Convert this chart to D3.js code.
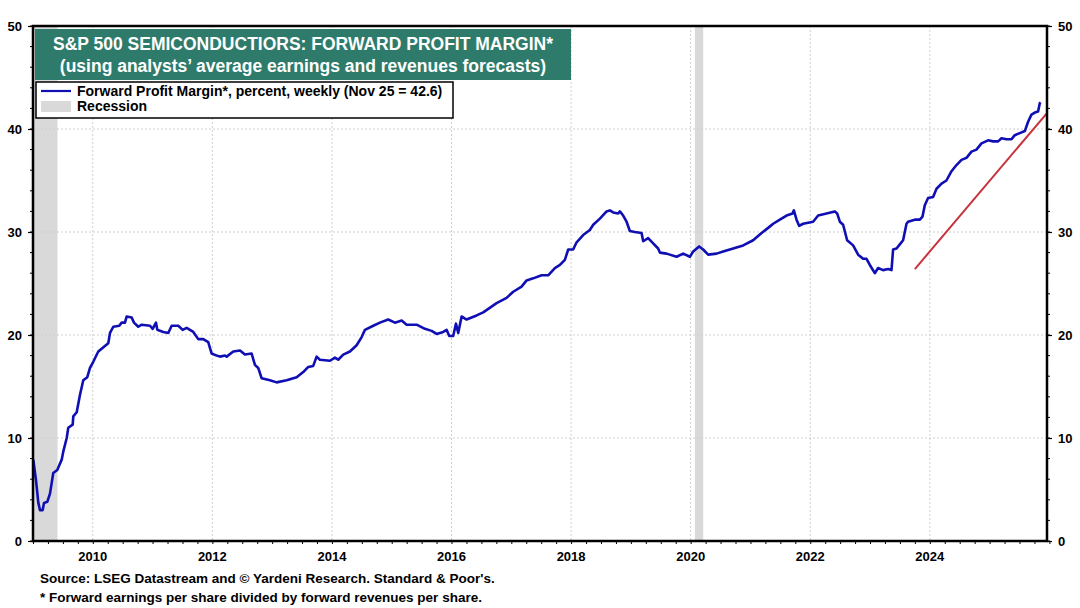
<!DOCTYPE html>
<html>
<head>
<meta charset="utf-8">
<script src="https://cdn.jsdelivr.net/npm/d3@7"></script>
<style>
  body { margin: 0; background: #ffffff; }
  svg text { font-family: "Liberation Sans", Arial, sans-serif; font-weight: bold; }
</style>
</head>
<body>
<script>
// weekly forward profit margin (decimal years)
const years = [
  2009.005, 2009.05, 2009.089, 2009.117, 2009.162, 2009.184, 2009.239, 2009.284, 2009.339, 2009.406,
  2009.48, 2009.507, 2009.564, 2009.59, 2009.664, 2009.674, 2009.731, 2009.786, 2009.841, 2009.908,
  2009.953, 2010.008, 2010.092, 2010.259, 2010.288, 2010.343, 2010.443, 2010.483, 2010.538, 2010.567,
  2010.65, 2010.689, 2010.761, 2010.818, 2010.957, 2011.002, 2011.057, 2011.079, 2011.179, 2011.263,
  2011.319, 2011.43, 2011.503, 2011.57, 2011.681, 2011.764, 2011.848, 2011.931, 2011.988, 2012.072,
  2012.127, 2012.211, 2012.239, 2012.35, 2012.462, 2012.545, 2012.657, 2012.712, 2012.767, 2012.824,
  2012.963, 2013.075, 2013.242, 2013.41, 2013.52, 2013.604, 2013.687, 2013.744, 2013.799, 2013.967,
  2014.05, 2014.105, 2014.189, 2014.301, 2014.413, 2014.497, 2014.552, 2014.691, 2014.803, 2014.941,
  2015.054, 2015.166, 2015.249, 2015.417, 2015.555, 2015.667, 2015.751, 2015.861, 2015.918, 2015.962,
  2016.028, 2016.074, 2016.112, 2016.169, 2016.252, 2016.42, 2016.53, 2016.754, 2016.921, 2017.032,
  2017.172, 2017.256, 2017.366, 2017.507, 2017.617, 2017.729, 2017.813, 2017.896, 2017.952, 2018.035,
  2018.092, 2018.202, 2018.314, 2018.37, 2018.482, 2018.594, 2018.649, 2018.704, 2018.788, 2018.816,
  2018.871, 2018.928, 2018.983, 2019.067, 2019.179, 2019.206, 2019.289, 2019.373, 2019.456, 2019.485,
  2019.597, 2019.764, 2019.875, 2019.987, 2020.042, 2020.142, 2020.209, 2020.293, 2020.433, 2020.543,
  2020.711, 2020.878, 2021.045, 2021.186, 2021.296, 2021.38, 2021.492, 2021.604, 2021.704, 2021.726,
  2021.771, 2021.814, 2021.881, 2022.048, 2022.132, 2022.272, 2022.411, 2022.45, 2022.495, 2022.55,
  2022.617, 2022.717, 2022.801, 2022.884, 2022.941, 2022.997, 2023.08, 2023.135, 2023.219, 2023.303,
  2023.359, 2023.386, 2023.443, 2023.498, 2023.553, 2023.61, 2023.636, 2023.749, 2023.833, 2023.878,
  2023.916, 2023.971, 2024.055, 2024.112, 2024.196, 2024.278, 2024.363, 2024.446, 2024.53, 2024.613,
  2024.697, 2024.78, 2024.864, 2024.975, 2025.058, 2025.142, 2025.199, 2025.282, 2025.366, 2025.421,
  2025.505, 2025.589, 2025.644, 2025.7, 2025.756, 2025.811, 2025.839, 2025.85
];
const margins = [
  7.9, 5.9, 3.7, 3.0, 3.0, 3.7, 3.8, 4.6, 6.6, 6.9,
  7.9, 8.7, 10.0, 11.0, 11.3, 12.1, 12.5, 14.2, 15.6, 15.9,
  16.8, 17.4, 18.4, 19.2, 20.2, 20.8, 20.9, 21.2, 21.2, 21.8,
  21.7, 21.2, 20.8, 21.0, 20.9, 20.6, 21.2, 20.5, 20.3, 20.2,
  20.9, 20.9, 20.5, 20.7, 20.3, 19.6, 19.6, 19.3, 18.2, 18.0,
  17.9, 18.0, 17.9, 18.4, 18.5, 18.1, 18.2, 17.1, 16.8, 15.8,
  15.6, 15.4, 15.6, 15.9, 16.4, 16.9, 17.0, 17.9, 17.6, 17.5,
  17.8, 17.6, 18.1, 18.4, 19.0, 19.8, 20.5, 20.9, 21.2, 21.5,
  21.2, 21.4, 21.0, 21.0, 20.6, 20.4, 20.1, 20.3, 20.5, 19.9,
  19.9, 21.1, 20.2, 21.8, 21.5, 21.9, 22.2, 23.1, 23.6, 24.2,
  24.7, 25.3, 25.5, 25.8, 25.8, 26.5, 26.8, 27.3, 28.3, 28.3,
  29.0, 29.7, 30.2, 30.7, 31.3, 32.0, 32.1, 31.9, 31.8, 32.0,
  31.6, 31.0, 30.1, 30.0, 29.9, 29.1, 29.4, 28.9, 28.4, 28.0,
  27.9, 27.6, 27.9, 27.6, 28.1, 28.6, 28.3, 27.8, 27.9, 28.1,
  28.4, 28.7, 29.2, 29.9, 30.4, 30.8, 31.2, 31.6, 31.8, 32.1,
  31.2, 30.6, 30.8, 31.0, 31.6, 31.8, 32.0, 31.8, 31.0, 30.7,
  29.2, 28.7, 27.8, 27.4, 27.4, 26.8, 26.0, 26.5, 26.3, 26.4,
  26.3, 28.3, 28.4, 28.8, 29.2, 30.8, 31.0, 31.2, 31.2, 31.5,
  32.6, 33.3, 33.4, 34.2, 34.7, 35.0, 35.9, 36.5, 37.0, 37.2,
  37.8, 38.0, 38.6, 38.9, 38.8, 38.8, 39.1, 39.0, 39.0, 39.4,
  39.6, 39.8, 40.7, 41.4, 41.6, 41.7, 42.5, 42.6
];

const trendYears = [2023.75, 2025.96];
const trendValues = [26.4, 41.55];

const recessions = [[2009.0, 2009.41], [2020.07, 2020.21]];

const yTicks = [0, 10, 20, 30, 40, 50];
const xLabels = [2010, 2012, 2014, 2016, 2018, 2020, 2022, 2024];

const titleLines = [
  "S&P 500 SEMICONDUCTIORS: FORWARD PROFIT MARGIN*",
  "(using analysts\u2019 average earnings and revenues forecasts)"
];
const legendLabels = ["Forward Profit Margin*, percent, weekly (Nov 25 = 42.6)", "Recession"];
const notes = [
  "Source: LSEG Datastream and \u00a9 Yardeni Research. Standard & Poor's.",
  "* Forward earnings per share divided by forward revenues per share."
];

const W = 1080, H = 608;
const plot = {left: 33, right: 1047, top: 26, bottom: 541};

const svg = d3.select("body").append("svg")
  .attr("width", W).attr("height", H);

const x = d3.scaleLinear().domain([2009, 2025.96]).range([plot.left, plot.right]);
const y = d3.scaleLinear().domain([0, 50]).range([plot.bottom, plot.top]);

// recession bands
svg.selectAll(".rec").data(recessions).enter().append("rect")
  .attr("x", d => x(d[0]))
  .attr("width", d => x(d[1]) - x(d[0]))
  .attr("y", plot.top).attr("height", plot.bottom - plot.top)
  .attr("fill", "#d9d9d9");

// grid
svg.append("g").selectAll("line").data(yTicks.slice(1, -1)).enter().append("line")
  .attr("x1", plot.left).attr("x2", plot.right)
  .attr("y1", d => y(d)).attr("y2", d => y(d))
  .attr("stroke", "#cfcfcf").attr("stroke-dasharray", "2,2");
svg.append("g").selectAll("line").data(xLabels).enter().append("line")
  .attr("x1", d => x(d)).attr("x2", d => x(d))
  .attr("y1", plot.top).attr("y2", plot.bottom)
  .attr("stroke", "#cfcfcf").attr("stroke-dasharray", "2,2");

// series
const pts = years.map((yr, i) => [yr, margins[i]]);
svg.append("path").datum(pts)
  .attr("fill", "none")
  .attr("stroke", "#0f0fb4")
  .attr("stroke-width", 2.6)
  .attr("stroke-linejoin", "round")
  .attr("d", d3.line().x(d => x(d[0])).y(d => y(d[1])));

svg.append("path").datum(trendYears.map((yr, i) => [yr, trendValues[i]]))
  .attr("fill", "none")
  .attr("stroke", "#c8323c")
  .attr("stroke-width", 2)
  .attr("d", d3.line().x(d => x(d[0])).y(d => y(d[1])));

// axes
const minorY = d3.range(0, 51, 2);
const yLeft = d3.axisLeft(y).tickValues(yTicks).tickSize(5).tickPadding(6);
const yRight = d3.axisRight(y).tickValues(yTicks).tickSize(5).tickPadding(6);

const gl = svg.append("g").attr("transform", "translate(" + plot.left + ",0)").call(yLeft);
const gr = svg.append("g").attr("transform", "translate(" + plot.right + ",0)").call(yRight);
[gl, gr].forEach(g => {
  g.select(".domain").remove();
  g.selectAll(".tick line").attr("stroke", "#000").attr("stroke-width", 1.2);
  g.selectAll(".tick text").attr("font-size", 13).attr("fill", "#000");
});
gl.selectAll(".minor").data(minorY).enter().append("line")
  .attr("x1", -3).attr("x2", 0).attr("y1", d => y(d)).attr("y2", d => y(d))
  .attr("stroke", "#000");
gr.selectAll(".minor").data(minorY).enter().append("line")
  .attr("x1", 0).attr("x2", 3).attr("y1", d => y(d)).attr("y2", d => y(d))
  .attr("stroke", "#000");

const xAxis = d3.axisBottom(x).tickValues(d3.range(2009, 2026.01, 0.25))
  .tickSize(3).tickFormat("");
const gx = svg.append("g").attr("transform", "translate(0," + plot.bottom + ")").call(xAxis);
gx.select(".domain").remove();
gx.selectAll(".tick line").attr("stroke", "#000");
gx.selectAll(".lbl").data(xLabels).enter().append("text")
  .attr("x", d => x(d)).attr("y", 20)
  .attr("text-anchor", "middle").attr("font-size", 13).attr("fill", "#000")
  .text(d => d);

// frame
svg.append("rect")
  .attr("x", plot.left).attr("y", plot.top)
  .attr("width", plot.right - plot.left).attr("height", plot.bottom - plot.top)
  .attr("fill", "none").attr("stroke", "#000").attr("stroke-width", 2.5);

// title box
svg.append("rect")
  .attr("x", 35).attr("y", 29).attr("width", 536).attr("height", 51)
  .attr("fill", "#2e7b6b");
svg.selectAll(".title").data(titleLines).enter().append("text")
  .attr("x", 303).attr("y", (d, i) => 50 + i * 22)
  .attr("text-anchor", "middle").attr("font-size", 17.5).attr("fill", "#fff")
  .text(d => d);

// legend
svg.append("rect")
  .attr("x", 36).attr("y", 82).attr("width", 417).attr("height", 36)
  .attr("fill", "#fff").attr("stroke", "#000").attr("stroke-width", 1.5);
svg.append("line").attr("x1", 41).attr("x2", 71).attr("y1", 91).attr("y2", 91)
  .attr("stroke", "#0f0fb4").attr("stroke-width", 2.2);
svg.append("rect").attr("x", 41).attr("y", 101).attr("width", 30).attr("height", 11)
  .attr("fill", "#d9d9d9");
svg.selectAll(".leg").data(legendLabels).enter().append("text")
  .attr("x", 77).attr("y", (d, i) => 96 + i * 15)
  .attr("font-size", 14).attr("fill", "#000")
  .text(d => d);

// notes
svg.selectAll(".note").data(notes).enter().append("text")
  .attr("x", 40).attr("y", (d, i) => 583 + i * 19)
  .attr("font-size", 13.5).attr("fill", "#000")
  .text(d => d);
</script>
</body>
</html>
